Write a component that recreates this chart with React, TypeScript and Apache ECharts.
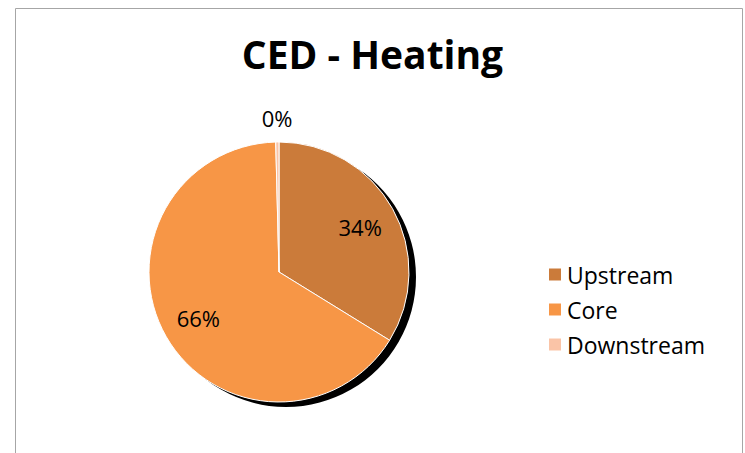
import React, { useEffect, useRef } from "react";
import * as echarts from "echarts";

const titleText = "CED - Heating";
const categories = ["Upstream", "Core", "Downstream"];
const values = [33.8, 65.8, 0.4];
const colors = ["#CB7B3A", "#F79646", "#FAC4A7"];

export default function App() {
  const ref = useRef<HTMLDivElement>(null);
  useEffect(() => {
    if (!ref.current) return;
    const chart = echarts.init(ref.current, null, { renderer: "svg" });
    const font = "'Open Sans', sans-serif";
    const cx = 279;
    const cy = 272;
    const R = 130;
    const pct = (p: any) => Math.round(p.percent) + "%";
    const baseData = categories.map((name, i) => ({
      name,
      value: values[i],
      itemStyle: { color: colors[i] },
    }));
    chart.setOption({
      animation: false,
      backgroundColor: "#fff",
      title: {
        text: titleText,
        left: "center",
        top: 29,
        textStyle: { fontFamily: font, fontWeight: "bold", fontSize: 39, color: "#000" },
      },
      graphic: [
        {
          type: "rect",
          shape: { x: 15.5, y: 8.5, width: 727, height: 460 },
          style: { fill: "none", stroke: "#a6a6a6", lineWidth: 1 },
          silent: true,
          z: -10,
        },
      ],
      legend: {
        data: categories,
        orient: "vertical",
        left: 542,
        top: 258,
        itemWidth: 14,
        itemHeight: 14,
        itemGap: 12,
        icon: "rect",
        textStyle: { fontFamily: font, fontSize: 23, color: "#000", padding: [0, 0, 0, 0], lineHeight: 23 },
        selectedMode: false,
      },
      series: [
        {
          type: "pie",
          name: "shadow",
          center: [cx + 7, cy + 5],
          radius: [0, R],
          silent: true,
          label: { show: false },
          labelLine: { show: false },
          emphasis: { disabled: true },
          data: [{ name: "__shadow", value: 1, itemStyle: { color: "#000" } }],
          z: 1,
        },
        {
          type: "pie",
          name: "main",
          center: [cx, cy],
          radius: [0, R],
          startAngle: 90,
          clockwise: true,
          label: { show: false },
          labelLine: { show: false },
          emphasis: { disabled: true },
          itemStyle: { borderColor: "#fff", borderWidth: 1 },
          data: baseData,
          z: 2,
        },
        {
          type: "pie",
          name: "innerLabels",
          center: [cx, cy],
          radius: [50, R],
          startAngle: 90,
          clockwise: true,
          silent: true,
          emphasis: { disabled: true },
          itemStyle: { color: "rgba(0,0,0,0)" },
          labelLine: { show: false },
          label: {
            show: true,
            position: "inside",
            formatter: pct,
            fontFamily: font,
            fontSize: 22,
            color: "#000",
          },
          data: categories.map((name, i) => ({
            name,
            value: values[i],
            itemStyle: { color: "rgba(0,0,0,0)" },
            label: { show: i < 2 },
          })),
          z: 3,
        },
        {
          type: "pie",
          name: "outerLabels",
          center: [cx, cy],
          radius: [140, 162],
          startAngle: 90,
          clockwise: true,
          silent: true,
          emphasis: { disabled: true },
          labelLine: { show: false },
          label: {
            show: true,
            position: "inside",
            formatter: pct,
            fontFamily: font,
            fontSize: 22,
            color: "#000",
          },
          data: categories.map((name, i) => ({
            name,
            value: values[i],
            itemStyle: { color: "rgba(0,0,0,0)" },
            label: { show: i === 2 },
          })),
          z: 3,
        },
      ],
    });
    return () => chart.dispose();
  }, []);
  return (
    <div
      ref={ref}
      style={{ position: "fixed", left: 0, top: 0, width: 745, height: 453 }}
    />
  );
}
